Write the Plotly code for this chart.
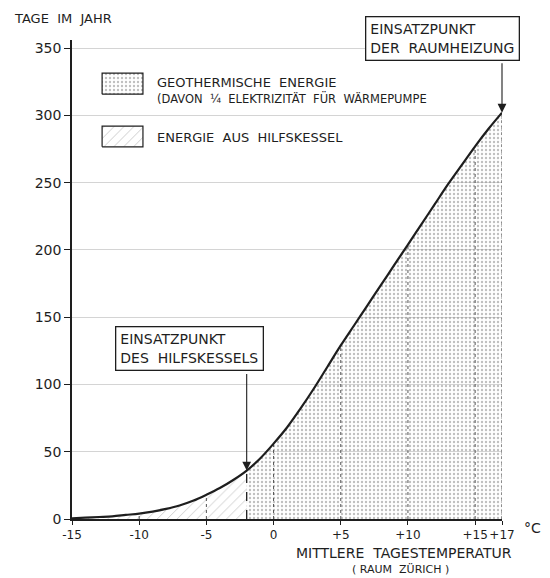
import plotly.graph_objects as go

# ---- data ----
temps = [-15, -14, -13, -12, -11, -10, -9, -8, -7, -6, -5, -4, -3, -2, -1, 0,
         1, 2, 3, 4, 5, 6, 7, 8, 9, 10, 11, 12, 13, 14, 15, 16, 17]
days = [0.5, 1, 1.5, 2, 3, 4, 5.5, 7.5, 10, 13.5, 18, 23, 29, 36, 45, 56,
        68, 82, 97, 113, 129, 144, 159, 174, 189, 204, 219, 234, 249, 263, 277, 290, 302]
boiler_start = -2          # Einsatzpunkt des Hilfskessels
heating_start = 17         # Einsatzpunkt der Raumheizung
x_tick_vals = [-15, -10, -5, 0, 5, 10, 15, 17]
x_tick_text = ["-15", "-10", "-5", "0", "+5", "+10", "+15", "+17"]
y_tick_vals = [0, 50, 100, 150, 200, 250, 300, 350]

FONT = "DejaVu Sans"
INK = "#1e1e1e"
DOTS = dict(shape=".", size=4, solidity=0.28, fgcolor="#808080")
HATCH = dict(shape="/", size=7, solidity=0.12, fgcolor="#8a8a8a")

fig = go.Figure()

# hatched region (auxiliary boiler)
hx = [t for t in temps if t <= boiler_start]
hy = [d for t, d in zip(temps, days) if t <= boiler_start]
fig.add_trace(go.Scatter(x=hx, y=hy, mode="lines", line=dict(width=0, shape="spline"),
                         fill="tozeroy", fillcolor="rgba(0,0,0,0)", fillpattern=HATCH,
                         hoverinfo="skip", showlegend=False))
# dotted region (geothermal)
gx = [t for t in temps if t >= boiler_start]
gy = [d for t, d in zip(temps, days) if t >= boiler_start]
fig.add_trace(go.Scatter(x=gx, y=gy, mode="lines", line=dict(width=0, shape="spline"),
                         fill="tozeroy", fillcolor="rgba(0,0,0,0)", fillpattern=DOTS,
                         hoverinfo="skip", showlegend=False))

# dotted verticals under curve at tick positions
vx, vy = [], []
for t in x_tick_vals[1:]:
    d = days[temps.index(t)]
    vx += [t, t, None]
    vy += [0, d, None]
fig.add_trace(go.Scatter(x=vx, y=vy, mode="lines",
                         line=dict(color="#555", width=1, dash="dot"),
                         hoverinfo="skip", showlegend=False))
# dashed line at boiler start
bd = days[temps.index(boiler_start)]
fig.add_trace(go.Scatter(x=[boiler_start, boiler_start], y=[0, bd], mode="lines",
                         line=dict(color=INK, width=1.3, dash="dash"),
                         hoverinfo="skip", showlegend=False))

# main curve
fig.add_trace(go.Scatter(x=temps, y=days, mode="lines",
                         line=dict(color=INK, width=2.2, shape="spline"),
                         hoverinfo="skip", showlegend=False))

# legend swatches on an overlay axis (0..1 over plot area)
def swatch(x0, x1, y0, y1, pattern):
    fig.add_trace(go.Scatter(x=[x0, x1, x1, x0, x0], y=[y0, y0, y1, y1, y0],
                             xaxis="x2", yaxis="y2", mode="lines",
                             line=dict(color=INK, width=1.2), fill="toself",
                             fillcolor="rgba(0,0,0,0)", fillpattern=pattern,
                             hoverinfo="skip", showlegend=False))

swatch(0.070, 0.165, 0.887, 0.931, DOTS)
swatch(0.070, 0.165, 0.777, 0.820, HATCH)

ann = []
def text(x, y, s, size=13, xanchor="center", yanchor="middle", **kw):
    ann.append(dict(x=x, y=y, xref="paper", yref="paper", text=s, showarrow=False,
                    xanchor=xanchor, yanchor=yanchor,
                    font=dict(family=FONT, size=size, color=INK), **kw))

text(-0.1395, 1.044, "TAGE  IM  JAHR", xanchor="left")
text(0.193, 0.912, "GEOTHERMISCHE  ENERGIE", xanchor="left")
text(0.193, 0.879, "(DAVON  ¼  ELEKTRIZITÄT  FÜR  WÄRMEPUMPE", size=11.5, xanchor="left")
text(0.193, 0.797, "ENERGIE  AUS  HILFSKESSEL", xanchor="left")
text(1.07, -0.019, "°C", size=14)
text(0.772, -0.071, "MITTLERE  TAGESTEMPERATUR", size=14)
text(0.765, -0.106, "( RAUM  ZÜRICH )", size=11)

# boxes
text(0.862, 1.003, "EINSATZPUNKT<br>DER  RAUMHEIZUNG", size=14, align="left",
     bordercolor=INK, borderwidth=1.3, borderpad=4, bgcolor="white")
text(0.274, 0.356, "EINSATZPUNKT<br>DES  HILFSKESSELS", size=14, align="left",
     bordercolor=INK, borderwidth=1.3, borderpad=4, bgcolor="white")

# arrows
ann.append(dict(x=heating_start, y=days[temps.index(heating_start)], xref="x", yref="y",
                text="", showarrow=True, ax=0, ay=-51, arrowhead=2, arrowsize=1.6,
                arrowwidth=1.1, arrowcolor=INK, standoff=0))
ann.append(dict(x=boiler_start, y=bd, xref="x", yref="y",
                text="", showarrow=True, ax=0, ay=-98, arrowhead=2, arrowsize=1.6,
                arrowwidth=1.1, arrowcolor=INK, standoff=0))

# page body has an 8px margin, so the figure is 8px smaller and margins shifted
fig.update_layout(
    width=542, height=570,
    margin=dict(l=64, r=48, t=32, b=59, autoexpand=False),
    paper_bgcolor="white", plot_bgcolor="white",
    font=dict(family=FONT, size=13, color=INK),
    xaxis=dict(range=[-15, 17], tickvals=x_tick_vals, ticktext=x_tick_text,
               tickangle=0, automargin=False,
               showgrid=False, zeroline=False, showline=True, linecolor=INK,
               linewidth=1.5, ticks="outside", ticklen=4, tickwidth=1.2,
               tickcolor=INK, tickfont=dict(size=12)),
    yaxis=dict(range=[0, 356], tickvals=y_tick_vals, showgrid=True, automargin=False,
               gridcolor="#d4d4d4", gridwidth=1, zeroline=False, showline=True,
               linecolor=INK, linewidth=1.5, ticks="outside", ticklen=6,
               tickwidth=1.2, tickcolor=INK, tickfont=dict(size=14)),
    xaxis2=dict(overlaying="x", range=[0, 1], visible=False),
    yaxis2=dict(overlaying="y", range=[0, 1], visible=False),
    annotations=ann,
    showlegend=False,
)

fig.write_html("out.html")
